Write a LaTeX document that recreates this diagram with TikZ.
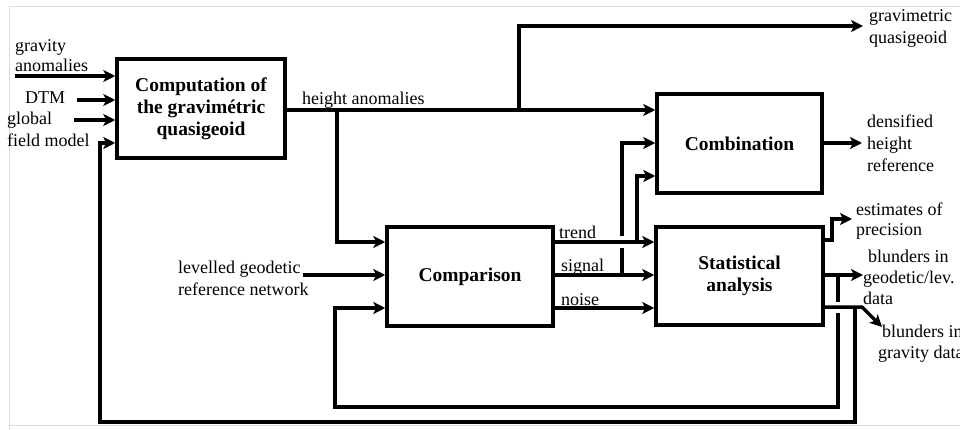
\documentclass[tikz,border=0pt]{standalone}
\usepackage{fontspec}
\setmainfont{Liberation Serif}
\usetikzlibrary{arrows.meta}
\begin{document}
\begin{tikzpicture}[x=1pt,y=-1pt,
  wire/.style={line width=3.5pt},
  arr/.style={wire,-{Stealth[length=12pt,width=12pt,inset=3pt]}},
  blockbox/.style={draw,line width=3.5pt,rectangle,inner sep=0pt,align=center,
     font=\fontsize{19.5}{22}\selectfont\bfseries},
  lbl/.style={inner sep=0pt,anchor=base west,
     font=\fontsize{18}{22}\selectfont},
  hop/.style={draw=white,line width=11pt}]
\useasboundingbox (0,0) rectangle (960,430);
% light frame
\draw[gray!30,line width=1pt] (9,430) -- (9,7) -- (960,7);
\draw[gray!30,line width=1pt] (9,425) -- (960,425);

% blocks
\node[blockbox,minimum width=168pt,minimum height=99pt] (comp1) at (201,108.5)
  {Computation of\\the gravimétric\\quasigeoid};
\node[blockbox,minimum width=165pt,minimum height=99pt] (combo) at (739.5,143.5) {Combination};
\node[blockbox,minimum width=166pt,minimum height=99pt] (cmp) at (470,276.5) {Comparison};
\node[blockbox,minimum width=167pt,minimum height=98pt] (stat) at (739.5,276) {Statistical\\analysis};

% labels
\node[lbl] (tgrav) at (15,52) {gravity};
\node[lbl] (tanom) at (15,72) {anomalies};
\node[lbl] (tdtm) at (25,104) {DTM};
\node[lbl] (tglob) at (7,125) {global};
\node[lbl] (tfield) at (7,147) {field model};
\node[lbl] (thgt) at (302,105) {height anomalies};
\node[lbl] (tlev) at (178,273) {levelled geodetic};
\node[lbl] (tref) at (178,295) {reference network};
\node[lbl] (ttrend) at (559,238) {trend};
\node[lbl] (tsig) at (561,271) {signal};
\node[lbl] (tnoise) at (561,305) {noise};
\node[lbl] (tgq1) at (869,22) {gravimetric};
\node[lbl] (tgq2) at (869,44) {quasigeoid};
\node[lbl] (tdens1) at (867,128) {densified};
\node[lbl] (tdens2) at (867,150) {height};
\node[lbl] (tdens3) at (867,172) {reference};
\node[lbl] (test1) at (856,215) {estimates of};
\node[lbl] (test2) at (856,236) {precision};
\node[lbl] (tbl1) at (868,262) {blunders in};
\node[lbl] (tbl1b) at (863,283) {geodetic/lev.};
\node[lbl] (tbl1c) at (863,304) {data};
\node[lbl] (tbl2) at (882,337) {blunders in};
\node[lbl] (tbl2b) at (878,358) {gravity data};

% coordinates
\coordinate (ga) at (15,76);
\coordinate (dtm) at (77,100);
\coordinate (gl) at (74,120);
\coordinate (lev) at (303,275);
\coordinate (hsplit) at (337,110);
\coordinate (qsplit) at (519,110);
\coordinate (gqend) at (863,26);
\coordinate (densend) at (862,143);
\coordinate (estend) at (852,219);
\coordinate (geoend) at (863,275);
\coordinate (gravcorner) at (862,307);
\coordinate (gravend) at (882,327);

% inputs of computation block
\draw[arr] (ga) -- (ga -| comp1.west);
\draw[arr] (dtm) -- (dtm -| comp1.west);
\draw[arr] (gl) -- (gl -| comp1.west);

% height anomalies
\draw[arr] (comp1.east |- hsplit) -- (hsplit -| combo.west);
\draw[arr] (hsplit) -- (337,242) -- (cmp.west |- 0,242);
\draw[arr] (qsplit) -- (519,26) -- (gqend);

% levelled network
\draw[arr] (lev) -- (lev -| cmp.west);

% comparison -> combination (verticals first)
\draw[arr] (622,275) -- (622,143) -- (combo.west |- 0,143);
\draw[arr] (637,242) -- (637,176) -- (combo.west |- 0,176);

% inner feedback loop (vertical first)
\draw[arr] (838,275) -- (838,407) -- (335,407) -- (335,308) -- (cmp.west |- 0,308);
% outer feedback loop
\draw[arr] (855,307) -- (855,422) -- (100,422) -- (100,143) -- (comp1.west |- 0,143);

% hops
\draw[hop] (616,242) -- (628,242);
\draw[hop] (832,307) -- (844,307);

% comparison -> statistical analysis
\draw[arr] (cmp.east |- 0,242) -- (stat.west |- 0,242);
\draw[arr] (cmp.east |- 0,275) -- (stat.west |- 0,275);
\draw[arr] (cmp.east |- 0,308) -- (stat.west |- 0,308);

% outputs
\draw[arr] (combo.east |- densend) -- (densend);
\draw[arr] (stat.east |- 0,240) -- (832,240) -- (832,219) -- (estend);
\draw[arr] (stat.east |- geoend) -- (geoend);
\draw[arr] (stat.east |- gravcorner) -- (gravcorner) -- (gravend);
\end{tikzpicture}
\end{document}
